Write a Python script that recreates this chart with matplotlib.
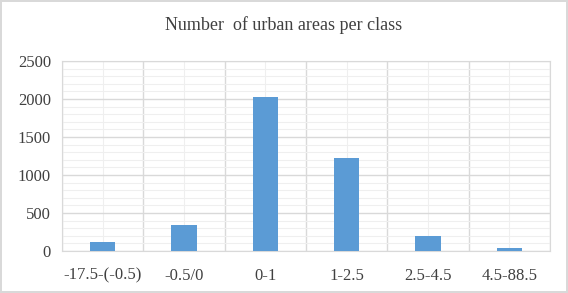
import matplotlib.pyplot as plt
from matplotlib.ticker import MultipleLocator

categories = ["-17.5-(-0.5)", "-0.5/0", "0-1", "1-2.5", "2.5-4.5", "4.5-88.5"]
counts = [120, 340, 2020, 1230, 195, 45]

plt.rcParams["font.family"] = ["Liberation Serif", "DejaVu Serif"]

fig = plt.figure(figsize=(5.68, 2.93), dpi=100)
fig.patch.set_edgecolor("#d9d9d9")
fig.patch.set_linewidth(1.5)
ax = fig.add_axes([62 / 568, 1 - 251 / 293, 488 / 568, 190 / 293])

x = list(range(len(categories)))
ax.bar(x, counts, width=0.31, color="#5b9bd5", zorder=3)

ax.set_xlim(-0.5, len(categories) - 0.5)
ax.set_ylim(0, 2500)
ax.yaxis.set_major_locator(MultipleLocator(500))
ax.yaxis.set_minor_locator(MultipleLocator(100))
ax.set_xticks(x)
ax.set_xticklabels(categories)
# category boundaries as major vertical grid
ax.set_xticks([i - 0.5 for i in range(len(categories) + 1)], minor=True)

ax.grid(axis="y", which="major", color="#d9d9d9", linewidth=1.0, zorder=0)
ax.grid(axis="y", which="minor", color="#efefef", linewidth=0.8, zorder=0)
ax.grid(axis="x", which="minor", color="#d9d9d9", linewidth=1.0, zorder=0)
ax.grid(axis="x", which="major", color="#efefef", linewidth=0.8, zorder=0)

for s in ax.spines.values():
    s.set_color("#d9d9d9")
ax.tick_params(which="both", length=0, labelsize=12, colors="#404040")
ax.tick_params(axis="x", pad=12)
ax.tick_params(axis="y", pad=8)

fig.text(0.5, 1 - 25 / 293, "Number  of urban areas per class", ha="center", va="center",
         fontsize=13, color="#404040")

plt.savefig("out.png", dpi=100)
